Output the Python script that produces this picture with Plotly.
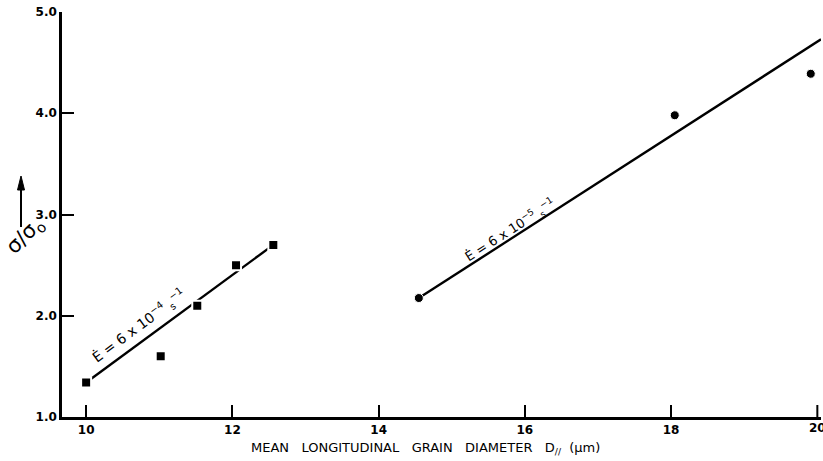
import plotly.graph_objects as go

# Data
sq_x = [10.0, 11.02, 11.52, 12.05, 12.56]
sq_y = [1.34, 1.60, 2.10, 2.50, 2.70]
ci_x = [14.55, 18.05, 19.91]
ci_y = [2.175, 3.98, 4.39]
fit4_x = [10.0, 12.56]
fit4_y = [1.34, 2.70]
fit5_x = [14.55, 20.05]
fit5_y = [2.175, 4.73]
x_ticks = [10, 12, 14, 16, 18]
x_last_tick = 20
y_ticks = [1.0, 2.0, 3.0, 4.0, 5.0]
y_ticklabels = ["1.0", "2.0", "3.0", "4.0", "5.0"]

FONT = "DejaVu Sans"
PW, PH = 823 - 64, 461 - 56  # plot area size in px
L, T = 62, 12


def px_x(p):
    return (p - L) / PW


def px_y(p):
    return (T + PH - p) / PH


tickfont = dict(family=FONT, size=12, color="black", weight=700)

fig = go.Figure()
fig.add_trace(go.Scatter(x=fit4_x, y=fit4_y, mode="lines",
                         line=dict(color="black", width=2.4), showlegend=False))
fig.add_trace(go.Scatter(x=fit5_x, y=fit5_y, mode="lines",
                         line=dict(color="black", width=2.4), showlegend=False))
fig.add_trace(go.Scatter(x=sq_x, y=sq_y, mode="markers",
                         marker=dict(symbol="square", size=10, color="black",
                                     line=dict(color="white", width=2)),
                         showlegend=False))
fig.add_trace(go.Scatter(x=ci_x, y=ci_y, mode="markers",
                         marker=dict(symbol="circle", size=9, color="black",
                                     line=dict(color="white", width=1)),
                         showlegend=False))

fig.add_annotation(x=10.72, y=1.90, xref="x", yref="y", showarrow=False,
                   xanchor="center", yanchor="middle",
                   text="Ė = 6 x 10<sup>−4</sup> <sub>s</sub><sup>−1</sup>", textangle=-36.5,
                   font=dict(family=FONT, size=14, color="black", weight=400))
fig.add_annotation(x=15.80, y=2.85, xref="x", yref="y", showarrow=False,
                   xanchor="center", yanchor="middle",
                   text="Ė = 6 x 10<sup>−5</sup> <sub>s</sub><sup>−1</sup>", textangle=-32.6,
                   font=dict(family=FONT, size=13, color="black", weight=400))

# last x tick label, clipped by the right page edge as in the reference
fig.add_annotation(x=x_last_tick, y=px_y(428), xref="x", yref="paper", showarrow=False,
                   xanchor="center", yanchor="middle", text=str(x_last_tick), font=tickfont)
# its tick mark
fig.add_shape(type="line", xref="x", yref="paper", x0=x_last_tick, x1=x_last_tick,
              y0=0, y1=12 / PH, line=dict(color="black", width=2))

# x-axis title
fig.add_annotation(x=px_x(425), y=px_y(448), xref="paper", yref="paper", showarrow=False,
                   xanchor="center", yanchor="middle",
                   text="MEAN\u00a0\u00a0\u00a0LONGITUDINAL\u00a0\u00a0\u00a0GRAIN\u00a0\u00a0\u00a0DIAMETER\u00a0\u00a0\u00a0D<sub>//</sub>\u00a0\u00a0(μm)",
                   font=dict(family=FONT, size=13, color="black", weight=400))

# y-axis label
fig.add_annotation(x=px_x(25), y=px_y(236), xref="paper", yref="paper",
                   xanchor="center", yanchor="middle",
                   showarrow=False, text="σ/σ<sub>o</sub>", textangle=-45,
                   font=dict(family=FONT, size=21, color="black", weight=400))

# upward arrow beside the y label
fig.add_shape(type="line", xref="paper", yref="paper",
              x0=px_x(21), x1=px_x(21), y0=px_y(227), y1=px_y(186),
              line=dict(color="black", width=2))
fig.add_shape(type="path", xref="paper", yref="paper",
              path=f"M {px_x(17.5)} {px_y(190)} L {px_x(21)} {px_y(176)} L {px_x(24.5)} {px_y(190)} Z",
              fillcolor="black", line=dict(color="black", width=1))

fig.update_layout(
    width=823, height=461,
    margin=dict(l=62, r=2, t=12, b=44),
    paper_bgcolor="white", plot_bgcolor="white",
    xaxis=dict(range=[9.67, 20.05], tickvals=x_ticks,
               ticktext=[str(v) for v in x_ticks],
               ticks="inside", ticklen=12, tickwidth=2, tickcolor="black",
               showline=True, linecolor="black", linewidth=2.5, showgrid=False,
               zeroline=False, tickfont=tickfont),
    yaxis=dict(range=[1, 5], tickvals=y_ticks, ticktext=y_ticklabels,
               ticks="inside", ticklen=12, tickwidth=2, tickcolor="black",
               showline=True, linecolor="black", linewidth=2.5, showgrid=False,
               zeroline=False, ticklabelstandoff=0, tickfont=tickfont),
)

fig.write_html("out.html")
